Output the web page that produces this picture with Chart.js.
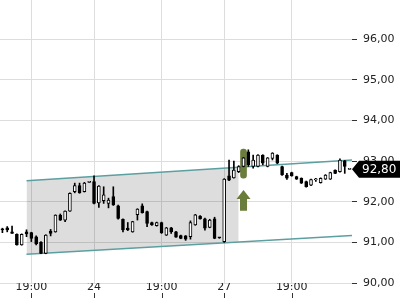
<!DOCTYPE html>
<html>
<head>
<meta charset="utf-8">
<script src="https://cdn.jsdelivr.net/npm/chart.js@4/dist/chart.umd.min.js"></script>
<style>
  html, body { margin: 0; padding: 0; background: #fff; }
  canvas { display: block; }
</style>
</head>
<body>
<canvas id="chart" width="400" height="300"></canvas>
<script>
// candles, oldest first
const opens  = [91.33,91.36,91.26,91.20,90.94,91.26,91.24,91.14,91.00,90.73,91.28,91.26,91.67,91.55,91.77,92.25,92.40,92.25,92.48,92.50,
                91.97,92.03,91.96,92.13,91.90,91.57,91.35,91.26,91.68,91.90,91.76,91.49,91.41,91.49,91.18,91.36,91.26,91.17,91.16,91.14,
                91.43,91.65,91.58,91.37,91.58,91.12,91.02,92.64,92.59,92.74,92.87,93.23,92.87,92.87,93.15,92.87,93.07,93.15,92.87,92.66,
                92.72,92.62,92.58,92.50,92.41,92.54,92.47,92.56,92.56,92.78,92.74,93.01,92.80];
const highs  = [91.35,91.39,91.40,91.21,91.21,91.31,91.25,91.16,91.02,91.19,91.32,91.68,91.70,91.78,92.22,92.46,92.46,92.48,92.49,92.64,
                92.40,92.37,92.09,92.37,91.92,91.58,91.49,91.52,91.83,91.95,91.77,91.50,91.50,91.50,91.37,91.37,91.27,91.18,91.17,91.53,
                91.69,91.66,91.60,91.57,91.62,91.12,92.57,93.03,93.00,92.89,93.09,93.28,93.15,93.16,93.16,93.09,93.21,93.16,92.88,92.70,
                92.73,92.63,92.59,92.51,92.56,92.58,92.59,92.67,92.73,92.79,93.06,93.02,92.80];
const lows   = [91.24,91.26,91.22,90.93,90.93,91.14,91.02,90.94,90.72,90.72,91.16,91.25,91.54,91.51,91.76,92.22,92.21,92.24,92.47,91.95,
                91.86,91.96,91.85,91.91,91.57,91.26,91.29,91.25,91.55,91.72,91.39,91.42,91.40,91.22,91.17,91.22,91.12,91.09,91.05,91.08,
                91.42,91.57,91.30,91.36,91.09,91.10,91.00,92.52,92.58,92.72,92.86,92.87,92.83,92.86,92.91,92.86,93.03,92.94,92.65,92.55,
                92.63,92.55,92.45,92.36,92.40,92.50,92.46,92.55,92.55,92.69,92.73,92.70,92.80];
const closes = [91.31,91.31,91.22,90.94,91.20,91.21,91.10,90.96,90.73,91.18,91.22,91.67,91.55,91.77,92.21,92.40,92.22,92.46,92.48,91.96,
                92.39,92.17,92.04,91.92,91.59,91.31,91.31,91.51,91.82,91.73,91.47,91.43,91.49,91.24,91.36,91.26,91.13,91.10,91.08,91.49,
                91.68,91.58,91.35,91.55,91.10,91.11,92.56,92.53,92.78,92.87,93.08,92.91,93.03,93.15,92.95,93.08,93.20,92.95,92.66,92.58,
                92.64,92.56,92.46,92.37,92.55,92.54,92.58,92.66,92.72,92.70,93.03,92.87,92.80];

// x tick labels and the candle they sit on
const xTickIndex = [6, 19, 33, 46, 60];
const xTickText  = ['19:00', '24', '19:00', '27', '19:00'];

const yTicks = [90, 91, 92, 93, 94, 95, 96];

// trend channel (candle index -> price)
const channelX     = [5, 72.5];
const channelUpper = [92.52, 93.03];
const channelLower = [90.71, 91.17];
const shadeEnd = 49;

// signal marker
const signalIndex = 50;
const signalBar = [92.58, 93.30];
const arrowTip = 92.29;
const arrowBase = 91.78;

const lastPrice = 92.80;

const n = closes.length;
const categories = closes.map((_, i) => {
    const k = xTickIndex.indexOf(i);
    return k >= 0 ? xTickText[k] : '';
});

function lerp(arr, x) {
    const t = (x - channelX[0]) / (channelX[1] - channelX[0]);
    return arr[0] + (arr[1] - arr[0]) * t;
}

const fmt = v => v.toFixed(2).replace('.', ',');
const olive = '#6b7d3a';
const teal = '#5c9fa0';

const extras = {
    id: 'extras',
    afterDatasetsDraw(chart) {
        const ctx = chart.ctx;
        const x = chart.scales.x, y = chart.scales.y;
        // arrow under the signal
        const ax = x.getPixelForValue(signalIndex);
        const tip = y.getPixelForValue(arrowTip);
        const bottom = y.getPixelForValue(arrowBase);
        const head = tip + 9;
        ctx.save();
        ctx.fillStyle = olive;
        ctx.beginPath();
        ctx.moveTo(ax, tip);
        ctx.lineTo(ax + 7, head);
        ctx.lineTo(ax + 3.5, head);
        ctx.lineTo(ax + 3.5, bottom);
        ctx.lineTo(ax - 3.5, bottom);
        ctx.lineTo(ax - 3.5, head);
        ctx.lineTo(ax - 7, head);
        ctx.closePath();
        ctx.fill();

        // last price tag
        const py = y.getPixelForValue(lastPrice);
        const left = chart.chartArea.right;
        ctx.fillStyle = '#000';
        ctx.beginPath();
        ctx.moveTo(left, py);
        ctx.lineTo(left + 7, py - 8.5);
        ctx.lineTo(400, py - 8.5);
        ctx.lineTo(400, py + 8.5);
        ctx.lineTo(left + 7, py + 8.5);
        ctx.closePath();
        ctx.fill();
        ctx.fillStyle = '#fff';
        ctx.font = '12px "DejaVu Sans"';
        ctx.textAlign = 'left';
        ctx.textBaseline = 'middle';
        ctx.fillText(fmt(lastPrice), left + 10, py + 0.5);
        ctx.restore();
    },
    afterDraw(chart) {
        // small tick marks under the time labels
        const ctx = chart.ctx;
        const x = chart.scales.x;
        ctx.save();
        ctx.strokeStyle = '#333';
        ctx.lineWidth = 1;
        x.ticks.forEach((t, i) => {
            const px = Math.round(x.getPixelForTick(i)) + 0.5;
            ctx.beginPath();
            ctx.moveTo(px, 293);
            ctx.lineTo(px, 298);
            ctx.stroke();
        });
        ctx.restore();
    }
};

Chart.defaults.font.family = 'DejaVu Sans';
Chart.defaults.font.size = 11;
Chart.defaults.color = '#222';

new Chart(document.getElementById('chart'), {
    data: {
        labels: categories,
        datasets: [
            {
                type: 'bar',
                data: opens.map((o, i) => [o, closes[i]]),
                backgroundColor: opens.map((o, i) => closes[i] >= o ? '#fff' : '#000'),
                borderColor: '#000',
                borderWidth: 1,
                borderSkipped: false,
                barThickness: 3,
                minBarLength: 1,
                grouped: false,
                order: 1
            },
            {
                type: 'bar',
                data: lows.map((l, i) => [l, highs[i]]),
                backgroundColor: '#000',
                barThickness: 1,
                grouped: false,
                order: 2
            },
            {
                type: 'bar',
                data: closes.map((_, i) => i === signalIndex ? signalBar : null),
                backgroundColor: olive,
                barThickness: 6,
                borderRadius: 3,
                borderSkipped: false,
                grouped: false,
                order: 3
            },
            {
                type: 'line',
                xAxisID: 'x2',
                data: channelX.map((cx, i) => ({ x: cx, y: channelUpper[i] })),
                borderColor: teal,
                borderWidth: 1.5,
                pointRadius: 0,
                order: 4
            },
            {
                type: 'line',
                xAxisID: 'x2',
                data: channelX.map((cx, i) => ({ x: cx, y: channelLower[i] })),
                borderColor: teal,
                borderWidth: 1.5,
                pointRadius: 0,
                order: 5
            },
            {
                type: 'line',
                xAxisID: 'x2',
                data: [{ x: channelX[0], y: channelUpper[0] }, { x: shadeEnd, y: lerp(channelUpper, shadeEnd) }],
                borderWidth: 0,
                pointRadius: 0,
                fill: '+1',
                backgroundColor: 'rgba(0,0,0,0.135)',
                order: 6
            },
            {
                type: 'line',
                xAxisID: 'x2',
                data: [{ x: channelX[0], y: channelLower[0] }, { x: shadeEnd, y: lerp(channelLower, shadeEnd) }],
                borderWidth: 0,
                pointRadius: 0,
                fill: false,
                order: 7
            }
        ]
    },
    options: {
        responsive: false,
        animation: false,
        devicePixelRatio: 1,
        layout: { padding: 0 },
        plugins: { legend: { display: false }, tooltip: { enabled: false } },
        scales: {
            x: {
                type: 'category',
                offset: true,
                grid: { color: '#ddd', offset: false, drawTicks: false },
                border: { display: false },
                ticks: { autoSkip: false, maxRotation: 0, padding: -2, color: '#222' },
                afterBuildTicks: s => { s.ticks = s.ticks.filter(t => xTickIndex.includes(t.value)); },
                afterFit: s => { s.height = 17; s.paddingLeft = 0; s.paddingRight = 0; }
            },
            x2: {
                type: 'linear',
                display: false,
                min: -0.5,
                max: n - 0.5,
                offset: false
            },
            y: {
                position: 'right',
                min: 90,
                max: 96.97,
                grid: { color: '#ddd', tickColor: '#333', tickLength: 5 },
                border: { display: false },
                ticks: { stepSize: 1, padding: 6, color: '#222', callback: v => fmt(v) },
                afterBuildTicks: s => { s.ticks = yTicks.map(v => ({ value: v })); },
                afterFit: s => { s.width = 48; s.paddingTop = 0; s.paddingBottom = 0; }
            }
        }
    },
    plugins: [extras]
});
</script>
</body>
</html>
